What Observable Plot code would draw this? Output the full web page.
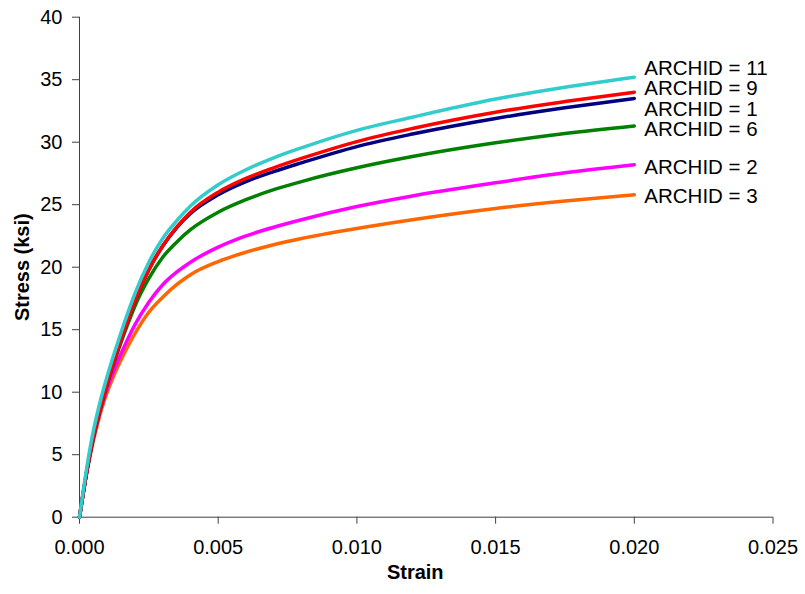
<!DOCTYPE html>
<html>
<head>
<meta charset="utf-8">
<script src="https://cdn.jsdelivr.net/npm/d3@7"></script>
<script src="https://cdn.jsdelivr.net/npm/@observablehq/plot@0.6"></script>
<style>
  html, body { margin: 0; padding: 0; background: #ffffff; }
  #chart { width: 805px; height: 594px; }
</style>
</head>
<body>
<div id="chart"></div>
<script>
// ---- Data ----
const strain = [0, 0.00025, 0.0005, 0.00075, 0.001, 0.00125, 0.0015, 0.00175, 0.002, 0.0025, 0.003, 0.0035, 0.004, 0.005, 0.006, 0.007, 0.008, 0.010, 0.012, 0.015, 0.0175, 0.020];

const archid11 = [0, 3.8, 6.9, 9.3, 11.3, 13.1, 14.8, 16.4, 17.9, 20.4, 22.3, 23.7, 24.9, 26.6, 27.8, 28.75, 29.55, 30.95, 32.0, 33.45, 34.4, 35.2];
const archid9  = [0, 3.5, 6.4, 8.7, 10.7, 12.5, 14.2, 15.8, 17.3, 19.8, 21.7, 23.2, 24.4, 26.0, 27.1, 27.95, 28.7, 30.05, 31.1, 32.4, 33.25, 34.0];
const archid1  = [0, 3.5, 6.4, 8.7, 10.7, 12.5, 14.2, 15.8, 17.3, 19.8, 21.7, 23.15, 24.3, 25.8, 26.85, 27.65, 28.35, 29.65, 30.65, 31.9, 32.75, 33.5];
const archid6  = [0, 3.5, 6.4, 8.6, 10.6, 12.4, 14.0, 15.5, 16.9, 19.1, 20.8, 22.0, 23.0, 24.4, 25.4, 26.2, 26.85, 27.95, 28.85, 29.95, 30.7, 31.3];
const archid2  = [0, 3.5, 6.3, 8.5, 10.3, 11.8, 13.1, 14.3, 15.4, 17.2, 18.6, 19.6, 20.4, 21.6, 22.5, 23.2, 23.8, 24.85, 25.7, 26.75, 27.55, 28.2];
const archid3  = [0, 3.4, 6.1, 8.3, 10.0, 11.4, 12.6, 13.7, 14.7, 16.4, 17.6, 18.6, 19.4, 20.45, 21.2, 21.8, 22.3, 23.1, 23.8, 24.7, 25.3, 25.8];

// drawing order: bottom first
const seriesNames  = ["ARCHID = 3", "ARCHID = 2", "ARCHID = 6", "ARCHID = 1", "ARCHID = 9", "ARCHID = 11"];
const seriesValues = [archid3, archid2, archid6, archid1, archid9, archid11];
const seriesColors = ["#FF6600", "#FF00FF", "#008000", "#000080", "#FF0000", "#33CCCC"];

const xTicks = [0, 0.005, 0.010, 0.015, 0.020, 0.025];
const yTicks = [0, 5, 10, 15, 20, 25, 30, 35, 40];

// ---- Build tidy table ----
const rows = [];
seriesNames.forEach((name, i) => {
  seriesValues[i].forEach((v, j) => rows.push({series: name, strain: strain[j], stress: v}));
});
const ends = seriesNames.map((name, i) => ({series: name, strain: strain[strain.length - 1], stress: seriesValues[i][seriesValues[i].length - 1]}));

// vertical nudges (px) for end labels so they do not collide
const labelNudge = {"ARCHID = 11": -8.5, "ARCHID = 9": -3.5, "ARCHID = 1": 10.5, "ARCHID = 6": 3.5, "ARCHID = 2": 2.3, "ARCHID = 3": 1.8};

const axisColor = "#404040";
const font = "'Liberation Sans', Arial, Helvetica, sans-serif";

const labelMarks = ends.map(e => Plot.text([e], {
  x: "strain", y: "stress", text: "series",
  dx: 10, dy: labelNudge[e.series], textAnchor: "start",
  fontSize: 20.5, fill: "#000000"
}));

const chart = Plot.plot({
  width: 805,
  height: 594,
  marginLeft: 79,
  marginRight: 32.5,
  marginTop: 16.7,
  marginBottom: 77.3,
  style: {fontFamily: font, background: "#ffffff", overflow: "visible"},
  x: {domain: [0, 0.025], axis: null},
  y: {domain: [0, 40], axis: null},
  color: {domain: seriesNames, range: seriesColors},
  marks: [
    Plot.axisX({ticks: xTicks, tickFormat: d3.format(".3f"), tickSize: 7, tickPadding: 16, fontSize: 20, stroke: axisColor, fill: "#000000", label: null}),
    Plot.axisY({ticks: yTicks, tickFormat: d3.format("d"), tickSize: 7, tickPadding: 10, fontSize: 20, stroke: axisColor, fill: "#000000", label: null}),
    Plot.ruleX([0], {stroke: axisColor, strokeWidth: 1}),
    Plot.ruleY([0], {stroke: axisColor, strokeWidth: 1}),
    Plot.line(rows, {x: "strain", y: "stress", z: "series", stroke: "series", strokeWidth: 3.5, curve: "monotone-x", strokeLinecap: "round", strokeLinejoin: "round"}),
    ...labelMarks,
    Plot.text(["Strain"], {frameAnchor: "bottom", dy: 62, dx: -11, fontSize: 20, fontWeight: "bold", fill: "#000000"}),
    Plot.text(["Stress (ksi)"], {frameAnchor: "left", textAnchor: "middle", dx: -57, rotate: -90, fontSize: 20, fontWeight: "bold", fill: "#000000"})
  ]
});
document.getElementById("chart").appendChild(chart);
</script>
</body>
</html>
